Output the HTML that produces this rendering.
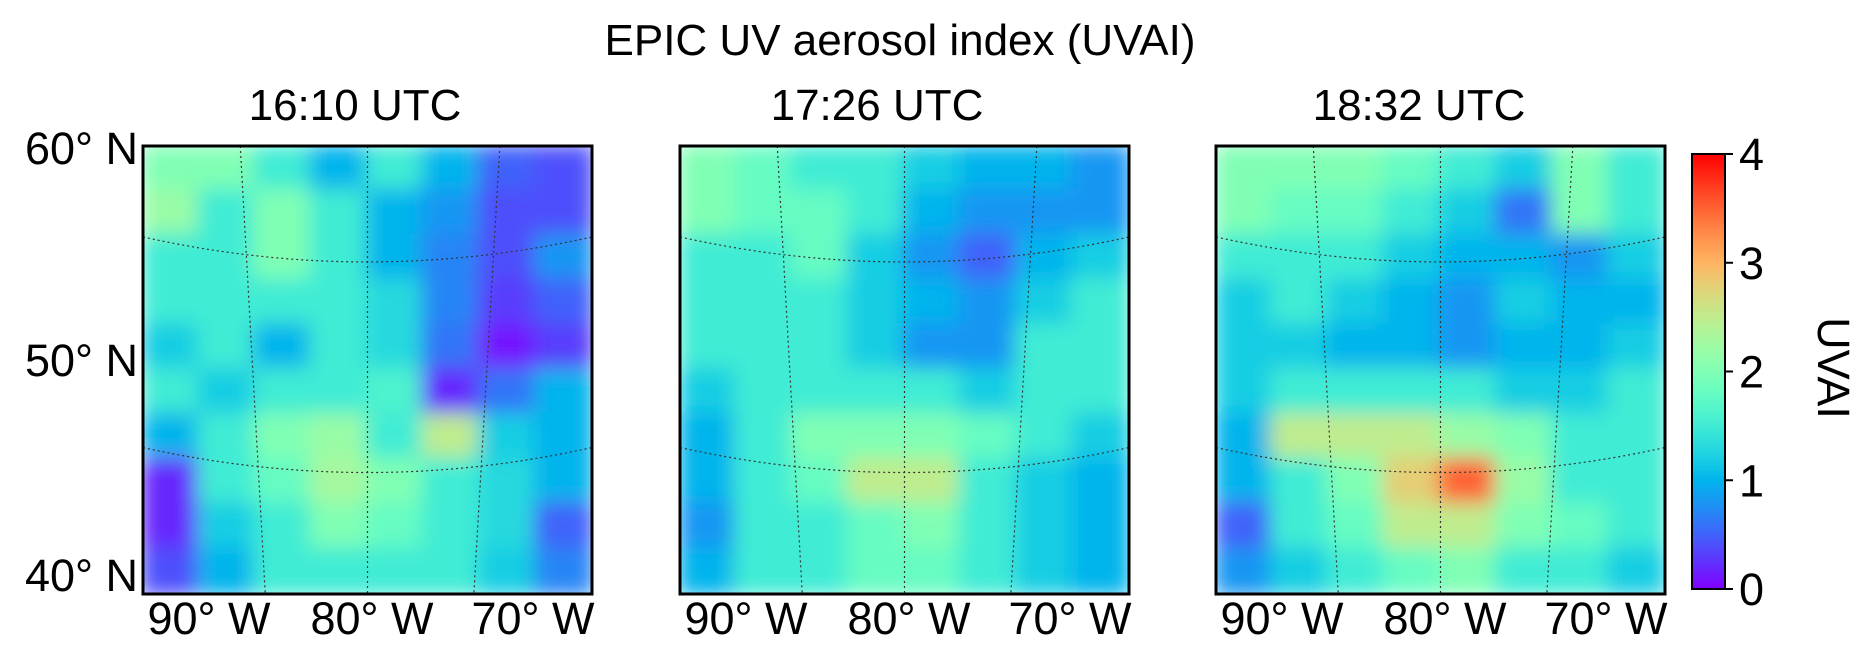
<!DOCTYPE html>
<html><head><meta charset="utf-8"><style>
html,body{margin:0;padding:0;background:#fff;}
svg{display:block;font-family:"Liberation Sans","DejaVu Sans",sans-serif;}
</style></head><body>
<svg id="fig" width="1858" height="648" viewBox="0 0 1858 648">
<defs>
<filter id="blur" x="-5%" y="-5%" width="110%" height="110%"><feGaussianBlur stdDeviation="10"/></filter>
<linearGradient id="cbgrad" x1="0" y1="1" x2="0" y2="0"></linearGradient>
</defs>
<text x="900" y="55" font-size="44" text-anchor="middle">EPIC UV aerosol index (UVAI)</text>
<g id="panels"></g>
<g id="cbar"></g>
</svg>
<script>
const panelTitles=["16:10 UTC","17:26 UTC","18:32 UTC"];
const latTicks=["60° N","50° N","40° N"];
const lonTicks=["90° W","80° W","70° W"];
const cbTicks=[0,1,2,3,4];
const grid1=[[2,2,1.5,1,1.5,1,0.5,0.4],[2.2,1.5,2,1.5,1,0.8,0.4,0.4],[1.5,1.5,2,1.5,1,0.7,0.4,0.8],[1.5,1.5,1.5,1.5,1.3,0.7,0.3,0.5],[1.2,1.5,1,1.5,1.3,0.6,0.1,0.3],[1.5,1.2,1.5,1.5,1.6,0.2,0.6,1],[1,1.5,2,2.2,1.5,2.5,1.2,1],[0.2,1.5,1.8,2.3,2,1.5,1.3,1],[0.2,1.2,1.5,2,1.8,1.5,1.3,0.5],[0.4,1,1.5,1.5,1.5,1.5,1.2,0.7]];
const grid2=[[2,1.8,1.5,1.5,1.2,1,1,0.8],[2,1.8,1.8,1.5,1,0.8,0.8,0.8],[1.5,1.5,1.8,1.2,0.8,0.5,1,1.2],[1.5,1.5,1.5,1.2,1,0.8,1.2,1.5],[1.5,1.5,1.5,1.2,0.8,0.8,1.5,1.5],[1.2,1.5,1.5,1.5,1.5,1.2,1.5,1.5],[1,1.5,2,2,2,1.8,1.5,1.2],[1,1.5,1.8,2.5,2.5,1.5,1.2,1],[0.8,1.5,1.5,1.8,2,1.5,1.2,1],[1,1.5,1.5,1.8,1.8,1.5,1.2,1]];
const grid3=[[2,2,2,1.8,1.5,1.2,2,1.5],[2,1.8,1.8,1.5,1.2,0.6,2,1.5],[1.5,1.5,1.5,1.2,1,1,0.8,1.2],[1.2,1.5,1.2,1,0.8,1.2,1,1],[1.2,1.2,1,1,0.8,1,1,1.2],[1.2,1.5,1.5,1.5,1.5,1.2,1.2,1.5],[1,2.5,2.5,2.5,2.2,2,1.5,1.5],[1,1.5,2,2.8,3.5,2.2,1.5,1.5],[0.5,1.5,1.8,2.5,2.5,2,1.8,1.5],[0.8,1.2,1.5,1.8,2,1.5,1.5,1.2]];
const grids=[grid1,grid2,grid3];
const NS="http://www.w3.org/2000/svg";
function mk(t,a,p){const e=document.createElementNS(NS,t);for(const k in a)e.setAttribute(k,a[k]);p.appendChild(e);return e;}
function rainbow(v){const x=Math.max(0,Math.min(1,v/4));const r=Math.min(1,Math.abs(2*x-0.5)),g=Math.sin(Math.PI*x),b=Math.cos(Math.PI*x/2);return `rgb(${Math.round(r*255)},${Math.round(g*255)},${Math.round(b*255)})`;}
const panelX=[143,680,1216],PW=449,PT=146,PH=448;
const panels=document.getElementById('panels');
panelX.forEach((px,i)=>{
 const g=mk('g',{},panels);
 
 
 const cp=mk('clipPath',{id:'clip'+i},g);mk('rect',{x:px,y:PT,width:PW,height:PH},cp);
 const cg=mk('g',{'clip-path':`url(#clip${i})`},g);
 const bg=mk('g',{filter:'url(#blur)'},cg);
 const grid=grids[i],rows=grid.length,cols=grid[0].length;
 const cw=PW/cols,ch=PH/rows;
 grid.forEach((row,r)=>row.forEach((v,c)=>{
  const cell=mk('rect',{x:px+c*cw-2,y:PT+r*ch-2,width:cw+4,height:ch+4,fill:rainbow(v)},bg);
  
  
 }));
 [0.27,0.74].forEach(f=>mk('path',{d:`M${px} ${PT+PH*f-30} Q${px+PW/2} ${PT+PH*f+20} ${px+PW} ${PT+PH*f-30}`,fill:'none',stroke:'#333','stroke-width':1.2,'stroke-dasharray':'2 3'},cg));
 [0.25,0.5,0.76].forEach(f=>mk('line',{x1:px+PW*f+(f-0.5)*60,y1:PT,x2:px+PW*f-(f-0.5)*40,y2:PT+PH,stroke:'#333','stroke-width':1.2,'stroke-dasharray':'2 3'},cg));
 const fr=mk('rect',{x:px,y:PT,width:PW,height:PH,fill:'none',stroke:'#000','stroke-width':3},g);
 
 
 const t=mk('text',{x:[355,877,1419][i],y:120,'font-size':44,'text-anchor':'middle'},g);t.textContent=panelTitles[i];
 
 
 lonTicks.forEach((s,k)=>{const tx=mk('text',{x:px+[66,229,390][k],y:634,'font-size':45,'text-anchor':'middle'},g);tx.textContent=s;
  
  });
 if(i===0){latTicks.forEach((s,k)=>{const ty=mk('text',{x:138,y:[164,376,591][k],'font-size':45,'text-anchor':'end'},g);ty.textContent=s;
  
  });}
});
const cb=document.getElementById('cbar');


const grad=document.getElementById('cbgrad');
for(let k=0;k<=20;k++){mk('stop',{offset:k/20,'stop-color':rainbow(k*0.2)},grad);}
const CX=1692,CY=154,CW=33,CH=435;
mk('rect',{x:CX,y:CY,width:CW,height:CH,fill:'url(#cbgrad)',stroke:'#000','stroke-width':2},cb);
const vmax=4;
cbTicks.forEach(v=>{const y=CY+CH-(v/vmax)*CH;
 mk('line',{x1:CX+CW,y1:y,x2:CX+CW+8,y2:y,stroke:'#000','stroke-width':2},cb);
 const t=mk('text',{x:CX+CW+14,y:y+16,'font-size':45},cb);t.textContent=v;
 
 });
const ul=mk('text',{x:1818,y:368,'font-size':45,'text-anchor':'middle',transform:'rotate(90 1818 368)'},cb);ul.textContent='UVAI';


</script>
</body></html>
